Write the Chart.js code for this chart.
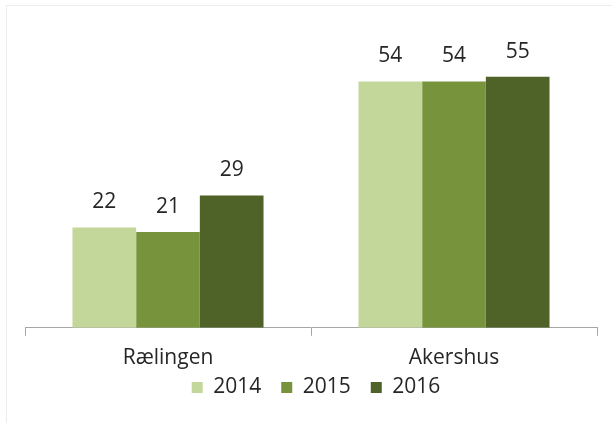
<!DOCTYPE html>
<html>
<head>
<meta charset="utf-8">
<script src="https://cdn.jsdelivr.net/npm/chart.js@4/dist/chart.umd.min.js"></script>
<style>
  html, body { margin: 0; padding: 0; background: #fff; }
  #wrap { width: 612px; height: 423px; }
</style>
</head>
<body>
<div id="wrap"><canvas id="c"></canvas></div>
<script>
const categories = ['Rælingen', 'Akershus'];
const years = ['2014', '2015', '2016'];
const values2014 = [22, 54];
const values2015 = [21, 54];
const values2016 = [29, 55];
const colors = ['#c4d79b', '#77933c', '#4f6228'];

const FONT = '"Open Sans", "Liberation Sans", sans-serif';
const TEXT = '#262626';

// value labels above each bar
const barLabels = {
    id: 'barLabels',
    afterDatasetsDraw(chart) {
        const ctx = chart.ctx;
        ctx.save();
        ctx.font = `21px ${FONT}`;
        ctx.fillStyle = TEXT;
        ctx.textAlign = 'center';
        ctx.textBaseline = 'middle';
        chart.data.datasets.forEach((ds, i) => {
            chart.getDatasetMeta(i).data.forEach((bar, j) => {
                ctx.fillText(ds.data[j], bar.x, bar.y - 25);
            });
        });
        ctx.restore();
    },
};

// legend sits tighter under the category labels than Chart.js allows
const legendShift = {
    id: 'legendShift',
    afterLayout(chart) {
        chart.legend.top -= 24;
        chart.legend.bottom -= 24;
        chart.legend.left += 5;
        chart.legend.right += 5;
    },
};

// faint frame lines at the top and left edge
const frame = {
    id: 'frame',
    beforeDraw(chart) {
        const ctx = chart.ctx;
        ctx.save();
        ctx.strokeStyle = '#ececec';
        ctx.lineWidth = 1;
        ctx.beginPath();
        ctx.moveTo(6.5, 423);
        ctx.lineTo(6.5, 5.5);
        ctx.lineTo(612, 5.5);
        ctx.stroke();
        ctx.restore();
    },
};

new Chart(document.getElementById('c'), {
    type: 'bar',
    data: {
        labels: categories,
        datasets: [
            { label: years[0], data: values2014, backgroundColor: colors[0] },
            { label: years[1], data: values2015, backgroundColor: colors[1] },
            { label: years[2], data: values2016, backgroundColor: colors[2] },
        ],
    },
    options: {
        responsive: true,
        maintainAspectRatio: false,
        animation: false,
        devicePixelRatio: 1,
        categoryPercentage: 0.668,
        barPercentage: 1,
        layout: { padding: { left: 25, right: 15, top: 54, bottom: -9 } },
        plugins: {
            legend: {
                position: 'bottom',
                labels: {
                    font: { family: FONT, size: 21 },
                    color: TEXT,
                    boxWidth: 11,
                    boxHeight: 11,
                    padding: 20,
                },
            },
            tooltip: { enabled: false },
        },
        scales: {
            x: {
                grid: {
                    offset: true,
                    drawOnChartArea: false,
                    drawTicks: true,
                    tickLength: 8,
                    color: '#a6a6a6',
                },
                border: { color: '#a6a6a6', width: 1 },
                ticks: {
                    font: { family: FONT, size: 21 },
                    color: TEXT,
                    padding: 10,
                },
            },
            y: {
                display: false,
                min: 0,
                max: 60,
            },
        },
    },
    plugins: [barLabels, legendShift, frame],
});
</script>
</body>
</html>
